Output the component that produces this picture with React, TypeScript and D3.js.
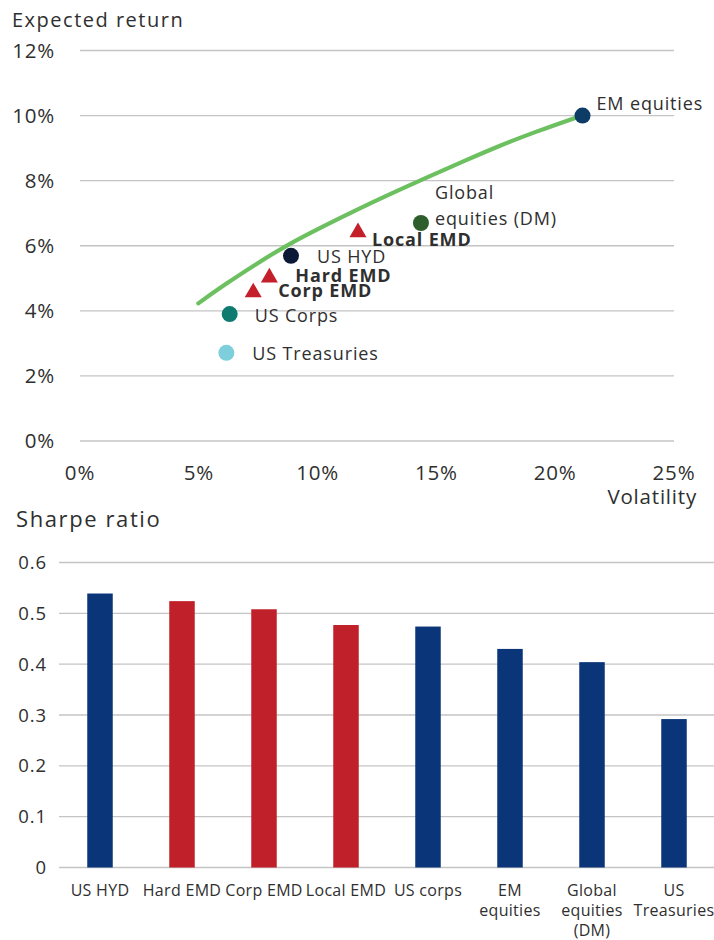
import React from 'react';
import * as d3 from 'd3';

// ---------- Data: risk / return scatter ----------
const scatterNames = ['EM equities', 'Global equities (DM)', 'Local EMD', 'US HYD', 'Hard EMD', 'Corp EMD', 'US Corps', 'US Treasuries'];
const scatterVol = [21.15, 14.35, 11.7, 8.88, 7.97, 7.29, 6.3, 6.16];
const scatterRet = [10.0, 6.7, 6.49, 5.69, 5.1, 4.64, 3.9, 2.71];
const scatterShape = ['circle', 'circle', 'triangle', 'circle', 'triangle', 'triangle', 'circle', 'circle'];
const scatterLabelLines = [['EM equities'], ['Global', 'equities (DM)'], ['Local EMD'], ['US HYD'], ['Hard EMD'], ['Corp EMD'], ['US Corps'], ['US Treasuries']];

const frontierVol = [4.98, 6.03, 7.44, 8.7, 10.24, 11.65, 13.05, 14.87, 16.28, 17.68, 19.08, 21.12];
const frontierRet = [4.23, 4.78, 5.45, 6.02, 6.6, 7.11, 7.59, 8.19, 8.64, 9.08, 9.48, 10.0];

const volTicks = [0, 5, 10, 15, 20, 25];
const retTicks = [0, 2, 4, 6, 8, 10, 12];

// ---------- Data: Sharpe ratio bars ----------
const barCategories = ['US HYD', 'Hard EMD', 'Corp EMD', 'Local EMD', 'US corps', 'EM equities', 'Global equities (DM)', 'US Treasuries'];
const barLabelLines = [['US HYD'], ['Hard EMD'], ['Corp EMD'], ['Local EMD'], ['US corps'], ['EM', 'equities'], ['Global', 'equities', '(DM)'], ['US', 'Treasuries']];
const sharpeValues = [0.539, 0.524, 0.508, 0.477, 0.474, 0.43, 0.404, 0.292];
const barIsEMD = [false, true, true, true, false, false, false, false];
const sharpeTicks = [0, 0.1, 0.2, 0.3, 0.4, 0.5, 0.6];

// ---------- Styles ----------
const FONT = "'Open Sans', 'Noto Sans', sans-serif";
const TEXT = '#2f2f2f';
const GRID = '#c4c4c4';
const scatterColors = ['#0d3d66', '#2e5e2c', '#c4202b', '#0b1836', '#c4202b', '#c4202b', '#0e7a70', '#7ccfdb'];
const labelBold = [false, false, true, false, true, true, false, false];
const labelOffsets: [number, number][] = [[14, -6], [14, -24], [14, 16], [26, 7], [26, 7], [25, 7], [25, 8], [26, 7]];
const NAVY = '#0b3579';
const RED = '#c0202a';
const FRONTIER = '#6cc05f';

export default function App() {
  // Scatter scales
  const x = d3.scaleLinear().domain([0, 25]).range([80, 674]);
  const y = d3.scaleLinear().domain([0, 12]).range([441, 50.5]);

  const frontier = d3
    .line<number>()
    .x((d, i) => x(frontierVol[i]))
    .y((d, i) => y(frontierRet[i]))
    .curve(d3.curveBasis)(frontierVol);

  const triPath = (s: number) => {
    const h = (s * Math.sqrt(3)) / 2;
    const p = d3.path();
    p.moveTo(0, -h / 2);
    p.lineTo(s / 2, h / 2);
    p.lineTo(-s / 2, h / 2);
    p.closePath();
    return p.toString();
  };

  // Bar scales
  const bx = d3
    .scaleBand<string>()
    .domain(barCategories)
    .range([59, 715])
    .paddingInner(0.689)
    .paddingOuter(0.3445);
  const by = d3.scaleLinear().domain([0, 0.6]).range([867.5, 562.5]);

  return (
    <svg
      width={714}
      height={940}
      style={{ position: 'absolute', left: 0, top: 0, background: '#fff' }}
      fontFamily={FONT}
    >
      {/* ---------- Top chart ---------- */}
      <text x={12} y={26.5} fontSize={20} fill={TEXT} letterSpacing={1.5}>
        Expected return
      </text>
      {retTicks.map((t) => (
        <g key={'rt' + t}>
          <line x1={80} x2={674} y1={y(t)} y2={y(t)} stroke={GRID} strokeWidth={1.3} />
          <text x={55} y={y(t)} dy="0.36em" textAnchor="end" fontSize={20.5} fill={TEXT} letterSpacing={0.8}>
            {t + '%'}
          </text>
        </g>
      ))}
      {volTicks.map((t) => (
        <text key={'vt' + t} x={x(t)} y={479.5} textAnchor="middle" fontSize={20.5} fill={TEXT} letterSpacing={0.8}>
          {t + '%'}
        </text>
      ))}
      <text x={697} y={504} textAnchor="end" fontSize={20.5} fill={TEXT} letterSpacing={0.8}>
        Volatility
      </text>

      <path d={frontier || ''} fill="none" stroke={FRONTIER} strokeWidth={4.2} strokeLinecap="round" />

      {scatterNames.map((n, i) => {
        const cx = x(scatterVol[i]);
        const cy = y(scatterRet[i]);
        return (
          <g key={n}>
            {scatterShape[i] === 'circle' ? (
              <circle cx={cx} cy={cy} r={8} fill={scatterColors[i]} />
            ) : (
              <path d={triPath(17)} transform={`translate(${cx},${cy})`} fill={scatterColors[i]} />
            )}
            <text
              x={cx + labelOffsets[i][0]}
              y={cy + labelOffsets[i][1]}
              fontSize={18}
              fontWeight={labelBold[i] ? 700 : 400}
              fill={TEXT}
              letterSpacing={0.85}
            >
              {scatterLabelLines[i].map((l, j) => (
                <tspan key={j} x={cx + labelOffsets[i][0]} dy={j === 0 ? 0 : 26}>
                  {l}
                </tspan>
              ))}
            </text>
          </g>
        );
      })}

      {/* ---------- Bottom chart ---------- */}
      <text x={16} y={526.5} fontSize={22} fill={TEXT} letterSpacing={1.6}>
        Sharpe ratio
      </text>
      {sharpeTicks.map((t) => (
        <g key={'st' + t}>
          <line x1={59} x2={714} y1={by(t)} y2={by(t)} stroke={GRID} strokeWidth={1.3} />
          <text x={47} y={by(t)} dy="0.36em" textAnchor="end" fontSize={18.5} fill={TEXT} letterSpacing={0.9}>
            {t === 0 ? '0' : d3.format('.1f')(t)}
          </text>
        </g>
      ))}
      {barCategories.map((c, i) => (
        <rect
          key={c}
          x={bx(c)}
          y={by(sharpeValues[i])}
          width={bx.bandwidth()}
          height={by(0) - by(sharpeValues[i])}
          fill={barIsEMD[i] ? RED : NAVY}
        />
      ))}
      {barCategories.map((c, i) => (
        <text key={'bl' + c} textAnchor="middle" fontSize={16} fill={TEXT} letterSpacing={0.3}>
          {barLabelLines[i].map((l, j) => (
            <tspan key={j} x={(bx(c) || 0) + bx.bandwidth() / 2} y={895.5 + j * 20}>
              {l}
            </tspan>
          ))}
        </text>
      ))}
    </svg>
  );
}
